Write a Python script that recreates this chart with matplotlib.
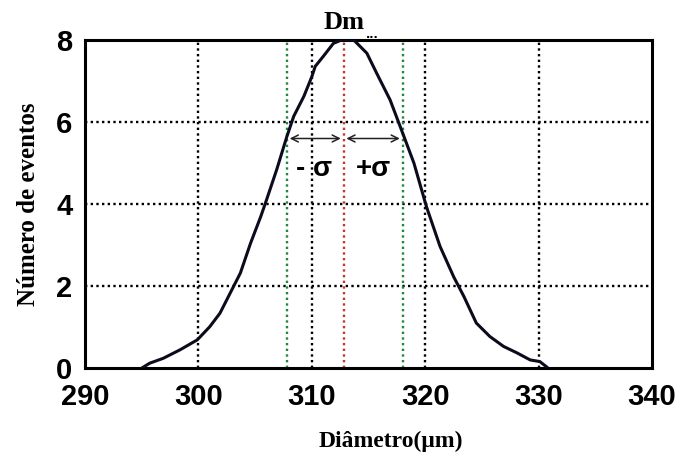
import matplotlib.pyplot as plt

# curva
diam = [295.0, 295.7, 296.9, 298.4, 299.9, 301.0, 301.9, 302.8, 303.7, 304.6,
        305.5, 306.0, 306.9, 307.8, 308.4, 309.3, 310.0, 310.3, 311.0, 311.9,
        312.6, 313.7, 314.85, 315.7, 316.9, 317.9, 319.0, 320.1, 321.3, 322.5,
        323.4, 324.5, 325.7, 326.9, 328.1, 329.25, 330.1, 330.7]
eventos = [0.0, 0.12, 0.24, 0.45, 0.69, 1.01, 1.34, 1.83, 2.32, 3.05,
           3.7, 4.1, 4.84, 5.65, 6.14, 6.63, 7.11, 7.36, 7.6, 7.92,
           8.0, 8.0, 7.68, 7.2, 6.54, 5.81, 5.0, 3.94, 2.97, 2.23,
           1.75, 1.1, 0.77, 0.53, 0.37, 0.2, 0.16, 0.03]

Dm = 312.8
sigma_lo = 307.8
sigma_hi = 318.0
xticks = [290, 300, 310, 320, 330, 340]
yticks = [0, 2, 4, 6, 8]

dot = (0, (1, 1.4))

fig = plt.figure(figsize=(6.8, 4.66), dpi=100)
ax = fig.add_axes([0.125, 0.21, 0.834, 0.704])

ax.plot(diam, eventos, color='#0b0b1e', lw=2.2, zorder=5)

# grade pontilhada
for xv in [300, 310, 320, 330]:
    ax.axvline(xv, color='black', ls=dot, lw=1.7, zorder=1)
for yv in [2, 4, 6]:
    ax.axhline(yv, color='black', ls=dot, lw=1.7, zorder=1)

ax.axvline(sigma_lo, color='#1f8a3c', ls=dot, lw=1.7, zorder=2)
ax.axvline(sigma_hi, color='#1f8a3c', ls=dot, lw=1.7, zorder=2)
ax.axvline(Dm, color='#c0392b', ls=dot, lw=1.7, zorder=2)

# setas de sigma
ax.annotate('', xy=(sigma_lo, 5.6), xytext=(Dm, 5.6),
            arrowprops=dict(arrowstyle='<->,head_length=0.5,head_width=0.25',
                            color='#222222', lw=1.1))
ax.annotate('', xy=(Dm, 5.6), xytext=(sigma_hi, 5.6),
            arrowprops=dict(arrowstyle='<->,head_length=0.5,head_width=0.25',
                            color='#222222', lw=1.1))
ax.text(310.2, 4.85, '- σ', ha='center', va='center', fontsize=20,
        fontweight='bold', family='Liberation Sans')
ax.text(315.4, 4.85, '+σ', ha='center', va='center', fontsize=20,
        fontweight='bold', family='Liberation Sans')
ax.text(Dm, 8.14, 'Dm', ha='center', va='bottom', fontsize=19,
        fontweight='bold', family='Liberation Serif')
ax.text(315.3, 8.0, '...', ha='center', va='bottom', fontsize=8,
        fontweight='bold')

ax.set_xlim(290, 340)
ax.set_ylim(0, 8)
ax.set_xticks(xticks)
ax.set_yticks(yticks)
ax.tick_params(axis='x', length=0, pad=11)
ax.tick_params(axis='y', length=0, pad=9)
for lab in ax.get_xticklabels() + ax.get_yticklabels():
    lab.set_fontsize(21)
    lab.set_fontweight('bold')
    lab.set_family('Liberation Sans')
for sp in ax.spines.values():
    sp.set_linewidth(2.2)

ax.set_xlabel('Diâmetro(μm)', fontsize=17, fontweight='bold',
              family='Liberation Serif', labelpad=14)
ax.xaxis.label.set_x(0.54)
ax.set_ylabel('Número de eventos', fontsize=18, fontweight='bold',
              family='Liberation Serif', labelpad=12)

fig.savefig('out.png')
